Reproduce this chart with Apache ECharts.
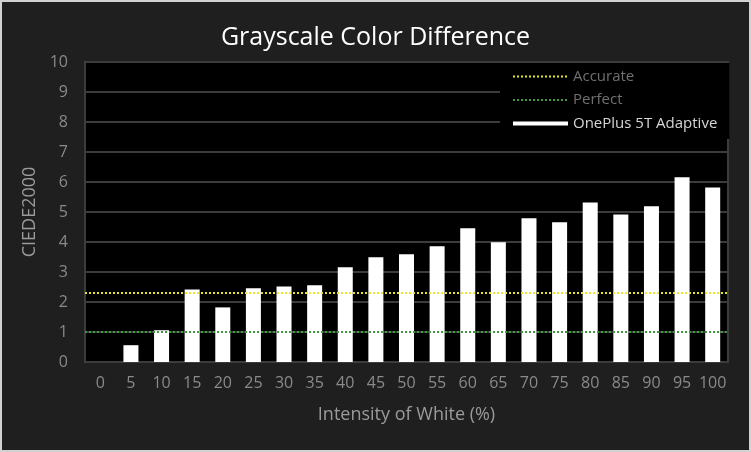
<!DOCTYPE html>
<html><head><meta charset="utf-8">
<script src="https://cdn.jsdelivr.net/npm/echarts@6/dist/echarts.min.js"></script>
<style>
html,body{margin:0;padding:0;background:#d2d2d2;}
#wrap{width:751px;height:452px;box-sizing:border-box;border:2px solid #d2d2d2;background:#1f1f1f;}
#chart{width:747px;height:448px;}
</style></head>
<body><div id="wrap"><div id="chart"></div></div>
<script>
var categories = ['0','5','10','15','20','25','30','35','40','45','50','55','60','65','70','75','80','85','90','95','100'];
var oneplusValues = [0, 0.56, 1.06, 2.42, 1.82, 2.46, 2.52, 2.56, 3.16, 3.49, 3.59, 3.86, 4.46, 3.99, 4.79, 4.66, 5.32, 4.92, 5.19, 6.16, 5.82];
var accurateLevel = 2.3;
var perfectLevel = 1.0;
var yTicks = [0, 10, 1];

var font = '"Open Sans", "Noto Sans", sans-serif';
var chart = echarts.init(document.getElementById('chart'));
chart.setOption({
  backgroundColor: '#1f1f1f',
  animation: false,
  title: {
    text: 'Grayscale Color Difference',
    left: 'center',
    top: 18,
    textStyle: {color: '#ffffff', fontFamily: font, fontSize: 25, fontWeight: 'normal'}
  },
  grid: {
    left: 83, right: 21, top: 60, bottom: 88,
    show: true, backgroundColor: '#000000', borderColor: '#3c3c3c', borderWidth: 2
  },
  legend: {
    orient: 'vertical',
    left: 498, top: 61,
    width: 227,
    backgroundColor: '#000000',
    padding: [6, 12, 8, 12],
    itemWidth: 55, itemHeight: 4, itemGap: 8.5,
    textStyle: {fontFamily: font, fontSize: 15, color: '#707070'},
    data: [
      {name: 'Accurate', itemStyle: {opacity: 0}},
      {name: 'Perfect', itemStyle: {opacity: 0}},
      {name: 'OnePlus 5T Adaptive', icon: 'rect', textStyle: {color: '#d6d6d6'}}
    ]
  },
  xAxis: {
    type: 'category',
    data: categories,
    boundaryGap: true,
    name: 'Intensity of White (%)',
    nameLocation: 'middle',
    nameGap: 44,
    nameTextStyle: {color: '#9a9a9a', fontFamily: font, fontSize: 18},
    axisLine: {show: false},
    axisTick: {show: false},
    axisLabel: {color: '#8a8a8a', fontFamily: font, fontSize: 16, interval: 0, margin: 13}
  },
  yAxis: {
    type: 'value',
    min: yTicks[0], max: yTicks[1], interval: yTicks[2],
    name: 'CIEDE2000',
    nameLocation: 'middle',
    nameGap: 45,
    nameTextStyle: {color: '#9a9a9a', fontFamily: font, fontSize: 18},
    axisLine: {show: false},
    axisTick: {show: false},
    axisLabel: {color: '#8a8a8a', fontFamily: font, fontSize: 16, margin: 17},
    splitLine: {lineStyle: {color: '#3c3c3c', width: 2}}
  },
  series: [
    {
      name: 'Accurate', type: 'line', data: [], symbol: 'none',
      lineStyle: {color: '#e6e62a', type: 'dotted', width: 2},
      itemStyle: {color: '#e6e62a'},
      markLine: {
        silent: true, symbol: 'none', label: {show: false},
        lineStyle: {color: '#e6e62a', type: 'dotted', width: 2},
        data: [{yAxis: accurateLevel}]
      },
      z: 5
    },
    {
      name: 'Perfect', type: 'line', data: [], symbol: 'none',
      lineStyle: {color: '#3f9a3f', type: 'dotted', width: 2},
      itemStyle: {color: '#3f9a3f'},
      markLine: {
        silent: true, symbol: 'none', label: {show: false},
        lineStyle: {color: '#3f9a3f', type: 'dotted', width: 2},
        data: [{yAxis: perfectLevel}]
      },
      z: 5
    },
    {
      name: 'OnePlus 5T Adaptive', type: 'bar', data: oneplusValues,
      barWidth: '49%',
      itemStyle: {color: '#ffffff'},
      z: 3
    }
  ]
});
</script></body></html>
